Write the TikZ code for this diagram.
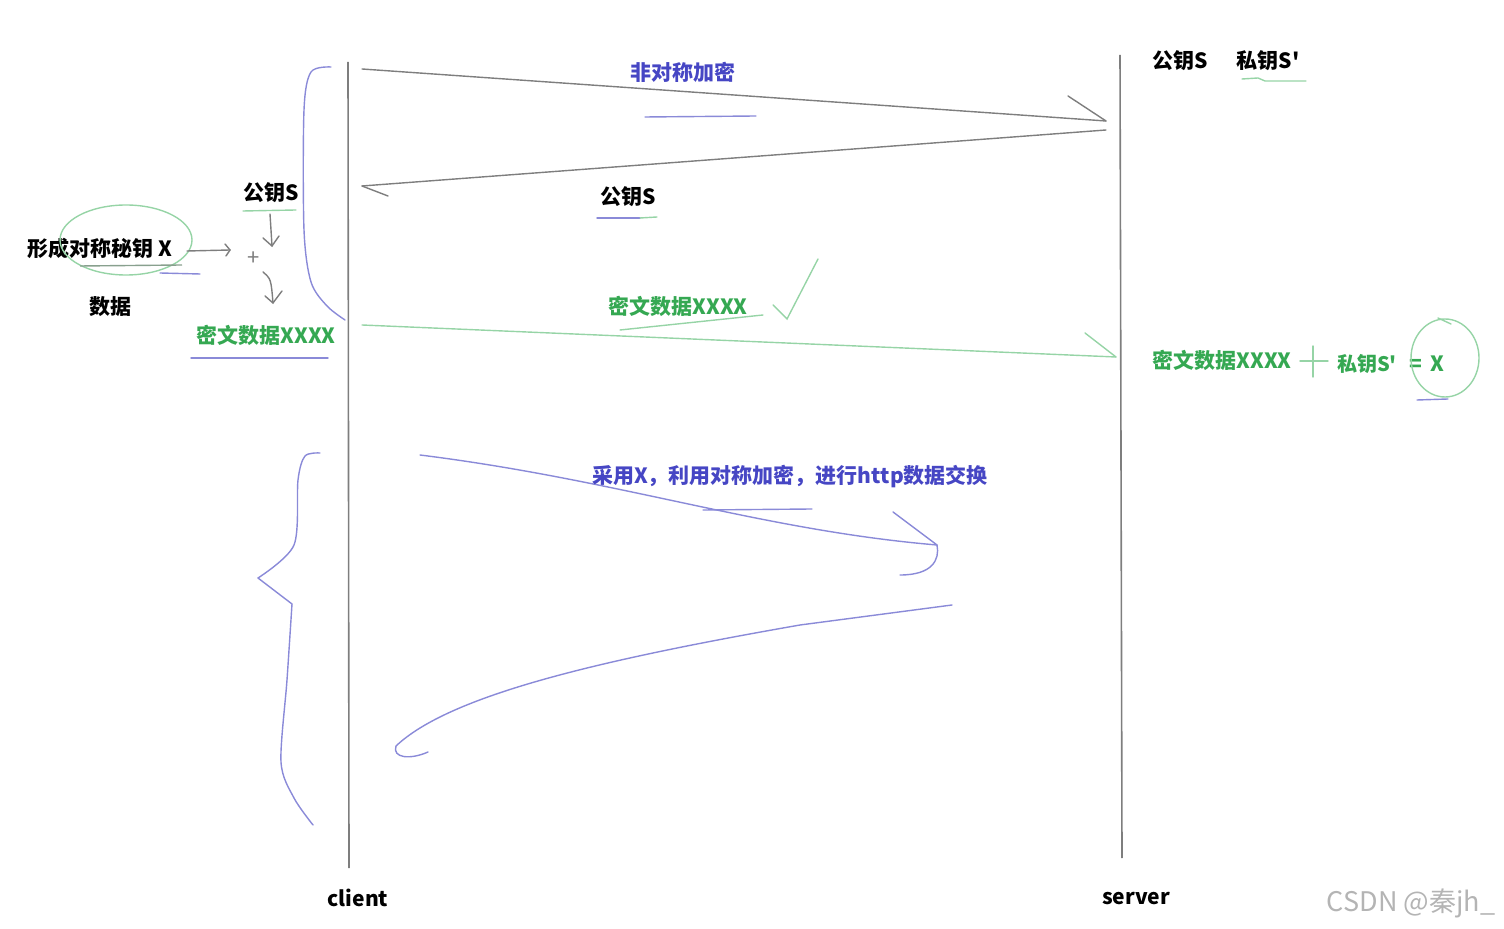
\documentclass[tikz,border=0pt]{standalone}
\usepackage{fontspec}
\setmainfont{Noto Sans CJK SC}[Ligatures=TeXOff]
\usetikzlibrary{
    positioning,
    calc,
    arrows.meta
}
\definecolor{TintaAzul}{HTML}{4646C4}
\definecolor{TracoAzul}{HTML}{8A8AD8}
\definecolor{TintaVerde}{HTML}{35A852}
\definecolor{TracoVerde}{HTML}{96D4A6}
\definecolor{TracoCinza}{HTML}{7E7E7E}
\definecolor{MarcaCinza}{HTML}{B4B4B4}

\tikzset{
    texto/.style={font=\bfseries\fontsize{10.5}{12}\selectfont, inner sep=1pt},
    textoAzul/.style={texto, text=TintaAzul},
    textoVerde/.style={texto, text=TintaVerde},
    linhaVida/.style={draw=TracoCinza, line width=0.8pt},
    tracoCinza/.style={draw=TracoCinza, line width=0.7pt, line cap=round},
    tracoAzul/.style={draw=TracoAzul, line width=0.7pt, line cap=round},
    tracoVerde/.style={draw=TracoVerde, line width=0.7pt, line cap=round}
}

\begin{document}
\begin{tikzpicture}[x=0.5pt, y=-0.5pt]
    \useasboundingbox (0,0) rectangle (1504,929);

    % linhas de vida
    \coordinate (clienteTopo) at (348,62);
    \coordinate (clienteBase) at (349,868);
    \coordinate (servidorTopo) at (1120,55);
    \coordinate (servidorBase) at (1122,858);
    \draw[linhaVida] (clienteTopo) -- (clienteBase);
    \draw[linhaVida] (servidorTopo) -- (servidorBase);
    \node[texto] (cliente) at (358,898) {client};
    \node[texto] (servidor) at (1136,899) {server};

    % chaves do servidor
    \node[texto] (pubServidor) at (1180,61) {公钥S};
    \node[texto] (privServidor) at (1268,61) {私钥S'};
    \draw[tracoVerde] (1242,79) -- (1258,78) -- (1265,81) -- (1306,81);

    % pedido e resposta
    \coordinate (pedidoIni) at (362,69);
    \coordinate (pedidoFim) at (1106,121);
    \coordinate (respIni) at (1106,130);
    \coordinate (respFim) at (362,186);
    \draw[tracoCinza] (pedidoIni) -- (pedidoFim);
    \draw[tracoCinza] (pedidoFim) -- ++(-38,-25);
    \draw[tracoCinza] (respIni) -- (respFim);
    \draw[tracoCinza] (respFim) -- ++(26,10);
    \node[textoAzul] (assim) at (683,72) {非对称加密};
    \draw[tracoAzul] (645,117) -- (756,116);
    \node[texto] (pubResp) at (628,197) {公钥S};
    \draw[tracoAzul] (597,218) -- (640,218);
    \draw[tracoVerde] (640,218) -- (657,217);

    % lado do cliente
    \draw[tracoAzul] plot[smooth] coordinates {(331,67) (311,72) (304,110) (304,230) (311,282) (327,306) (345,320)};
    \node[texto] (chaveX) at (100,249) {形成对称秘钥 X};
    \draw[tracoVerde] (126,240) ellipse [x radius=66, y radius=35];
    \draw[draw=TracoCinza!60!TracoVerde, line width=0.7pt] (80,266) -- (182,265);
    \draw[tracoAzul] (160,273) -- (200,274);
    \node[texto] (dados) at (110,307) {数据};
    \node[texto] (pubCliente) at (271,193) {公钥S};
    \draw[tracoVerde] (243,211) -- (296,210);
    \coordinate (somaDir) at (230,250);
    \draw[tracoCinza] (187,251) -- (somaDir);
    \draw[tracoCinza] (225,244) -- (somaDir) -- (226,256);
    \node[text=TracoCinza, font=\fontsize{11}{12}\selectfont] (soma) at (254,259) {+};
    \coordinate (desce) at (272,246);
    \draw[tracoCinza] (270,214) -- (desce);
    \draw[tracoCinza] (263,238) -- (desce) -- (279,236);
    \coordinate (resulta) at (273,303);
    \draw[tracoCinza] (263,272) .. controls (271,279) .. (resulta);
    \draw[tracoCinza] (265,296) -- (resulta) -- (282,291);
    \node[textoVerde] (cifraCliente) at (266,335) {密文数据XXXX};
    \draw[tracoAzul] (191,358) -- (328,358);

    % envio do texto cifrado
    \coordinate (cifraIni) at (362,325);
    \coordinate (cifraFim) at (1116,357);
    \draw[tracoVerde] (cifraIni) -- (cifraFim);
    \draw[tracoVerde] (cifraFim) -- ++(-31,-24);
    \node[textoVerde] (cifraMeio) at (678,306) {密文数据XXXX};
    \draw[tracoVerde] (620,330) -- (763,315);
    \draw[tracoVerde] (773,305) -- (787,319) -- (818,259);

    % lado do servidor
    \node[textoVerde] (cifraServidor) at (1222,360) {密文数据XXXX};
    \draw[tracoVerde] (1313,346) -- (1313,377);
    \draw[tracoVerde] (1300,361) -- (1328,361);
    \node[textoVerde, font=\bfseries\fontsize{10}{12}\selectfont] (privUsada) at (1367,364) {私钥S'};
    \node[textoVerde] (igual) at (1416,365) {=};
    \node[textoVerde] (resX) at (1437,364) {X};
    \draw[tracoVerde] (1445,358) ellipse [x radius=34, y radius=39];
    \draw[tracoVerde] (1438,318) -- (1451,324);
    \draw[tracoAzul] (1417,400) -- (1448,399);

    % troca simetrica
    \draw[tracoAzul] plot[smooth] coordinates {(320,453) (305,456) (298,480) (294,545) (258,578)};
    \draw[tracoAzul] (258,578) -- (292,604);
    \draw[tracoAzul] plot[smooth] coordinates {(292,604) (287,680) (281,762) (294,798) (313,825)};
    \coordinate (trocaIni) at (420,455);
    \coordinate (trocaFim) at (937,545);
    \draw[tracoAzul] (trocaIni) .. controls (620,480) and (760,530) .. (trocaFim);
    \draw[tracoAzul] (893,512) -- (trocaFim);
    \draw[tracoAzul] (trocaFim) .. controls (940,560) and (932,575) .. (900,575);
    \node[textoAzul] (simetrica) at (790,477) {采用X，利用对称加密，进行http数据交换};
    \draw[tracoAzul] (703,510) -- (812,509);
    \coordinate (voltaIni) at (952,605);
    \coordinate (voltaFim) at (396,746);
    \draw[tracoAzul] (voltaIni) -- (800,625) .. controls (600,660) and (450,695) .. (voltaFim);
    \draw[tracoAzul] (voltaFim) .. controls (392,758) and (410,760) .. (428,752);

    \node[text=MarcaCinza, font=\fontsize{13.5}{14}\selectfont] (marca) at (1411,903) {CSDN @秦jh\_};
\end{tikzpicture}
\end{document}
